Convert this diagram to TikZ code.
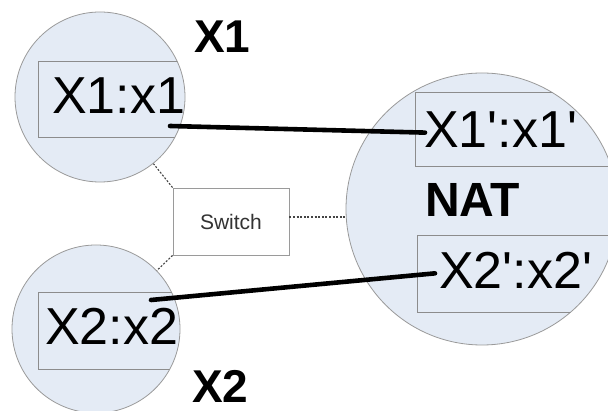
\documentclass[tikz,border=0pt]{standalone}
\usepackage{fontspec}
\setmainfont{Liberation Sans}
\usepackage{xcolor}
\definecolor{HostFill}{HTML}{E4EBF5}
\definecolor{RimGray}{HTML}{9A9A9A}
\definecolor{BoxGray}{HTML}{8C8C8C}
\definecolor{DotGray}{HTML}{444444}
\usepackage{tikz}
\usetikzlibrary{positioning}

\begin{document}
\begin{tikzpicture}[x=1pt,y=-1pt,
  host/.style={circle,draw=RimGray,fill=HostFill,line width=0.8pt,inner sep=0pt},
  portbox/.style={rectangle,draw=BoxGray,line width=0.9pt,inner sep=0pt,anchor=north west},
  porttext/.style={inner sep=0pt,anchor=base west,font=\fontsize{52}{52}\selectfont},
  hostname/.style={inner sep=0pt,anchor=base west,font=\bfseries\fontsize{46}{46}\selectfont},
  link/.style={line width=4.6pt,line cap=round},
  lan/.style={DotGray,line width=1.1pt,dash pattern=on 2pt off 1.6pt}]
  \clip (0,0) rectangle (608,411);
  \fill[white] (0,0) rectangle (608,411);

  \node[host,minimum size=170pt] (hX1) at (100,97) {};
  \node[host,minimum size=168pt] (hX2) at (96,329) {};
  \node[host,minimum size=272pt] (hNAT) at (482,209) {};

  \begin{scope}
    \clip (hX1.center) circle[radius=85pt];
    \node[portbox,minimum width=170pt,minimum height=76pt] (bX1) at (38,61) {};
  \end{scope}
  \begin{scope}
    \clip (hX2.center) circle[radius=84pt];
    \node[portbox,minimum width=170pt,minimum height=77pt] (bX2) at (38,292) {};
  \end{scope}
  \begin{scope}
    \clip (hNAT.center) circle[radius=136pt];
    \node[portbox,minimum width=240pt,minimum height=74pt] (bX1p) at (415,92) {};
    \node[portbox,minimum width=240pt,minimum height=77pt] (bX2p) at (417,235) {};
  \end{scope}

  \node[porttext] (tX1) at (52,114) {X1:x1};
  \node[porttext] (tX2) at (45,345) {X2:x2};
  \node[porttext] (tX1p) at (424,148) {X1\textquotesingle:x1\textquotesingle};
  \node[porttext] (tX2p) at (439,289) {X2\textquotesingle:x2\textquotesingle};

  \node[hostname] (lX1) at (194,53) {X1};
  \node[hostname] (lX2) at (192,403) {X2};
  \node[hostname,font=\bfseries\fontsize{48}{48}\selectfont] (lNAT) at (425,217) {NAT};

  \node[draw=RimGray,line width=0.9pt,minimum width=116pt,minimum height=67pt,
    font=\fontsize{21}{21}\selectfont,text=black!80] (sw) at (231,221.5) {Switch};
  \draw[lan] (sw.north west) -- (hX1);
  \draw[lan] (sw.south west) -- (hX2);
  \draw[lan] ([yshift=4.5pt]sw.east) -- ([yshift=4.5pt]sw.east -| hNAT.west);

  \coordinate (aX1) at (170,126);
  \coordinate (aX2) at (151,300);
  \draw[link] (aX1) -- ([xshift=1pt,yshift=-2.5pt]tX1p.west);
  \draw[link] (aX2) -- ([xshift=-4pt,yshift=-2.5pt]tX2p.west);
\end{tikzpicture}
\end{document}
